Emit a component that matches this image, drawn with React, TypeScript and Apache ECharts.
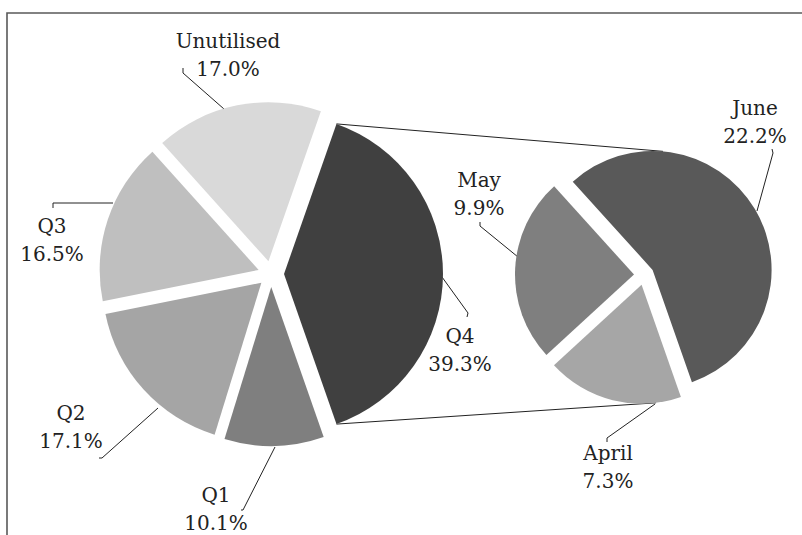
import React, { useEffect, useRef } from 'react';
import * as echarts from 'echarts';

// ---- data ----
const leftNames = ['Q4', 'Q1', 'Q2', 'Q3', 'Unutilised'];
const leftValues = [39.3, 10.1, 17.1, 16.5, 17.0];
const rightNames = ['April', 'May', 'June'];
const rightValues = [7.3, 9.9, 22.2];

// ---- styles ----
const leftColors = ['#404040', '#7f7f7f', '#a5a5a5', '#bfbfbf', '#d9d9d9'];
const rightColors = ['#a6a6a6', '#7f7f7f', '#595959'];
const FONT = 'DejaVu Serif';
const TEXT = '#222222';

const LEFT = { cx: 271, cy: 274, r: 159, offset: 13 };
const RIGHT = { cx: 644, cy: 275, r: 119, offset: 10 };
const RIGHT_START = -70.7;

// label placement (block centre) and leader lines
const labelPlace: Record<string, { x: number; y: number; line: number[][] }> = {
  Unutilised: { x: 228, y: 55, line: [[224, 109], [183, 73], [183, 68]] },
  Q3: { x: 52, y: 240, line: [[113, 203], [53, 203], [53, 208]] },
  Q2: { x: 71, y: 427, line: [[158, 408], [102, 458], [99, 458]] },
  Q1: { x: 216, y: 509, line: [[275, 447], [243, 510], [241, 510]] },
  Q4: { x: 460, y: 350, line: [[442, 277], [468, 313], [467, 317]] },
  May: { x: 479, y: 194, line: [[518, 257], [480, 226], [480, 222]] },
  June: { x: 755, y: 122, line: [[757, 211], [773, 153], [772, 149]] },
  April: { x: 608, y: 467, line: [[655, 404], [607, 438], [607, 442]] },
};

const sumOf = (a: number[]) => a.reduce((s, v) => s + v, 0);

function midAngle(values: number[], i: number, start: number) {
  const sum = sumOf(values);
  let before = 0;
  for (let j = 0; j < i; j++) before += values[j];
  return start - ((before + values[i] / 2) / sum) * 360;
}

function sliceVertex(values: number[], i: number, start: number, geo: { cx: number; cy: number; offset: number }) {
  const mid = (midAngle(values, i, start) * Math.PI) / 180;
  return [geo.cx + geo.offset * Math.cos(mid), geo.cy - geo.offset * Math.sin(mid)];
}

function sliceSeries(
  names: string[],
  values: number[],
  colors: string[],
  geo: { cx: number; cy: number; r: number; offset: number },
  start: number,
  i: number
) {
  const [cx, cy] = sliceVertex(values, i, start, geo);
  return {
    type: 'pie',
    center: [cx, cy],
    radius: geo.r,
    startAngle: start,
    clockwise: true,
    silent: true,
    avoidLabelOverlap: false,
    emphasis: { disabled: true },
    label: {
      show: true,
      position: 'outside',
      formatter: (p: any) => `{n|${p.name}}\n{n|${Number(p.value).toFixed(1)}%}`,
      rich: {
        n: { fontFamily: FONT, fontSize: 20, lineHeight: 28, color: TEXT },
      },
    },
    labelLine: { show: true, smooth: false, lineStyle: { color: TEXT, width: 1 } },
    labelLayout: (p: any) => {
      if (p.dataIndex !== i) return {};
      const pl = labelPlace[names[i]];
      return {
        x: pl.x,
        y: pl.y,
        align: 'center',
        verticalAlign: 'middle',
        labelLinePoints: pl.line,
      };
    },
    data: names.map((n, j) => ({
      name: n,
      value: values[j],
      itemStyle: { color: j === i ? colors[j] : 'rgba(0,0,0,0)', borderWidth: 0 },
      label: { show: j === i },
      labelLine: { show: j === i },
    })),
  };
}

export default function App() {
  const ref = useRef<HTMLDivElement>(null);
  useEffect(() => {
    if (!ref.current) return;
    const chart = echarts.init(ref.current, null, { renderer: 'svg' });
    const leftStart = ((leftValues[0] / sumOf(leftValues)) * 360) / 2;

    const series: any[] = [];
    leftNames.forEach((_, i) => series.push(sliceSeries(leftNames, leftValues, leftColors, LEFT, leftStart, i)));
    rightNames.forEach((_, i) => series.push(sliceSeries(rightNames, rightValues, rightColors, RIGHT, RIGHT_START, i)));

    // connector lines from the Q4 slice to the second pie
    const rad = Math.PI / 180;
    const q4 = sliceVertex(leftValues, 0, leftStart, LEFT);
    const q4Top = [q4[0] + LEFT.r * Math.cos(leftStart * rad), q4[1] - LEFT.r * Math.sin(leftStart * rad)];
    const q4Bot = [q4[0] + LEFT.r * Math.cos(-leftStart * rad), q4[1] - LEFT.r * Math.sin(-leftStart * rad)];
    const juneV = sliceVertex(rightValues, 2, RIGHT_START, RIGHT);
    const aprV = sliceVertex(rightValues, 0, RIGHT_START, RIGHT);
    const rTop = [juneV[0] + RIGHT.r * Math.cos(85 * rad), juneV[1] - RIGHT.r * Math.sin(85 * rad)];
    const rBot = [aprV[0] + RIGHT.r * Math.cos(-83 * rad), aprV[1] - RIGHT.r * Math.sin(-83 * rad)];

    chart.setOption({
      animation: false,
      backgroundColor: '#ffffff',
      series,
      graphic: [
        {
          type: 'rect',
          shape: { x: 7, y: 13, width: 1000, height: 1000 },
          style: { fill: 'none', stroke: '#595959', lineWidth: 1.6 },
          silent: true,
        },
        {
          type: 'line',
          shape: { x1: q4Top[0], y1: q4Top[1], x2: rTop[0], y2: rTop[1] },
          style: { stroke: TEXT, lineWidth: 1 },
          silent: true,
        },
        {
          type: 'line',
          shape: { x1: q4Bot[0], y1: q4Bot[1], x2: rBot[0], y2: rBot[1] },
          style: { stroke: TEXT, lineWidth: 1 },
          silent: true,
        },
      ],
    });
    return () => chart.dispose();
  }, []);
  return (
    <div
      ref={ref}
      style={{ position: 'absolute', left: 0, top: 0, width: 802, height: 535, background: '#fff' }}
    />
  );
}
